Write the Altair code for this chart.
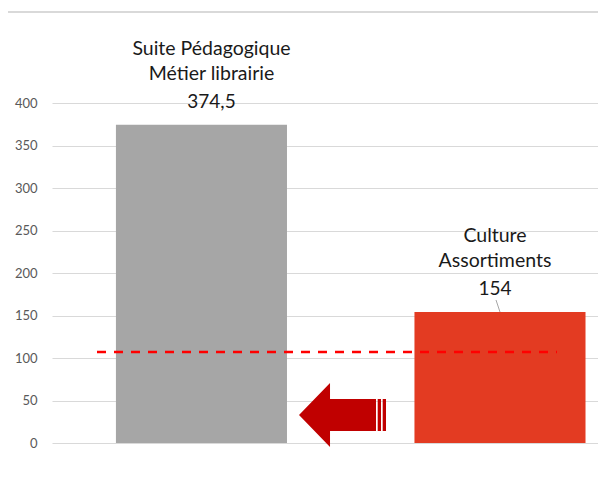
import altair as alt
import pandas as pd

# ---- data ----
categories = ["Suite Pédagogique", "Culture"]
category_lines = [["Suite Pédagogique", "Métier librairie"], ["Culture", "Assortiments"]]
values = [374.5, 154]
value_labels = ["374,5", "154"]
bar_colors = ["#a6a6a6", "#e33b22"]
reference_value = [107]
y_ticks = [0, 50, 100, 150, 200, 250, 300, 350, 400]

df = pd.DataFrame({
    "cat": categories,
    "value": values,
    "vlabel": value_labels,
    "clabel": category_lines,
    "color": bar_colors,
})
ref_df = pd.DataFrame({"ref": reference_value})

FONT = "Lato"
W = 546

xscale = alt.Scale(domain=categories, paddingInner=0.427, paddingOuter=0.128, align=0.8366)
yscale = alt.Scale(domain=[0, 400], nice=False)

base = alt.Chart(df)

bars = base.mark_bar().encode(
    x=alt.X("cat:N", scale=xscale, axis=None, sort=categories),
    y=alt.Y("value:Q", scale=yscale, title=None,
            axis=alt.Axis(values=y_ticks, grid=True, gridColor="#d9d9d9", gridWidth=1,
                          domain=False, ticks=False, labelColor="#595959",
                          labelFontSize=13, labelFont=FONT, labelPadding=15)),
    color=alt.Color("color:N", scale=None),
)

ref_line = alt.Chart(ref_df).mark_rule(
    color="#ff0000", strokeWidth=2.5, strokeDash=[9, 8]
).encode(
    y=alt.Y("ref:Q", scale=yscale),
    x=alt.value(45), x2=alt.value(505),
)

arrow_path = ("M-1,0L-0.287,-0.736L-0.287,-0.368L0.77,-0.368L0.77,0.368L-0.287,0.368L-0.287,0.736Z "
              "M0.809,-0.368L0.885,-0.368L0.885,0.368L0.809,0.368Z "
              "M0.924,-0.368L1,-0.368L1,0.368L0.924,0.368Z")
arrow = alt.Chart(ref_df).mark_point(
    shape=arrow_path, filled=True, color="#c00000", opacity=1, size=7569, strokeWidth=0
).encode(x=alt.value(290.5), y=alt.value(312))

top_line = alt.Chart(ref_df).mark_rule(color="#d9d9d9", strokeWidth=2).encode(
    x=alt.value(-45), x2=alt.value(W), y=alt.value(-91)
)

leader = alt.Chart(ref_df).mark_rule(color="#a6a6a6", strokeWidth=1).encode(
    x=alt.value(444), x2=alt.value(448), y=alt.value(197), y2=alt.value(209)
)

dx_map = {"Suite Pédagogique": 10, "Culture": -5}
texts = []
for c in categories:
    sub = base.transform_filter(alt.datum.cat == c)
    texts.append(sub.mark_text(font=FONT, fontSize=19.5, color="#1a1a1a", baseline="alphabetic",
                               align="center", lineHeight=25, dx=dx_map[c], dy=-70).encode(
        x=alt.X("cat:N", scale=xscale, sort=categories), y=alt.Y("value:Q", scale=yscale),
        text="clabel"))
    texts.append(sub.mark_text(font=FONT, fontSize=19, color="#1a1a1a", baseline="alphabetic",
                               align="center", dx=dx_map[c], dy=-17).encode(
        x=alt.X("cat:N", scale=xscale, sort=categories), y=alt.Y("value:Q", scale=yscale),
        text="vlabel:N"))

chart = alt.layer(top_line, bars, ref_line, arrow, leader, *texts).properties(
    width=W, height=340,
    autosize=alt.AutoSizeParams(type="none"),
    padding={"left": 44, "top": 95, "right": 0, "bottom": 20},
).configure_view(stroke=None)

chart.save("out.html", embed_options={"renderer": "svg", "actions": False})
